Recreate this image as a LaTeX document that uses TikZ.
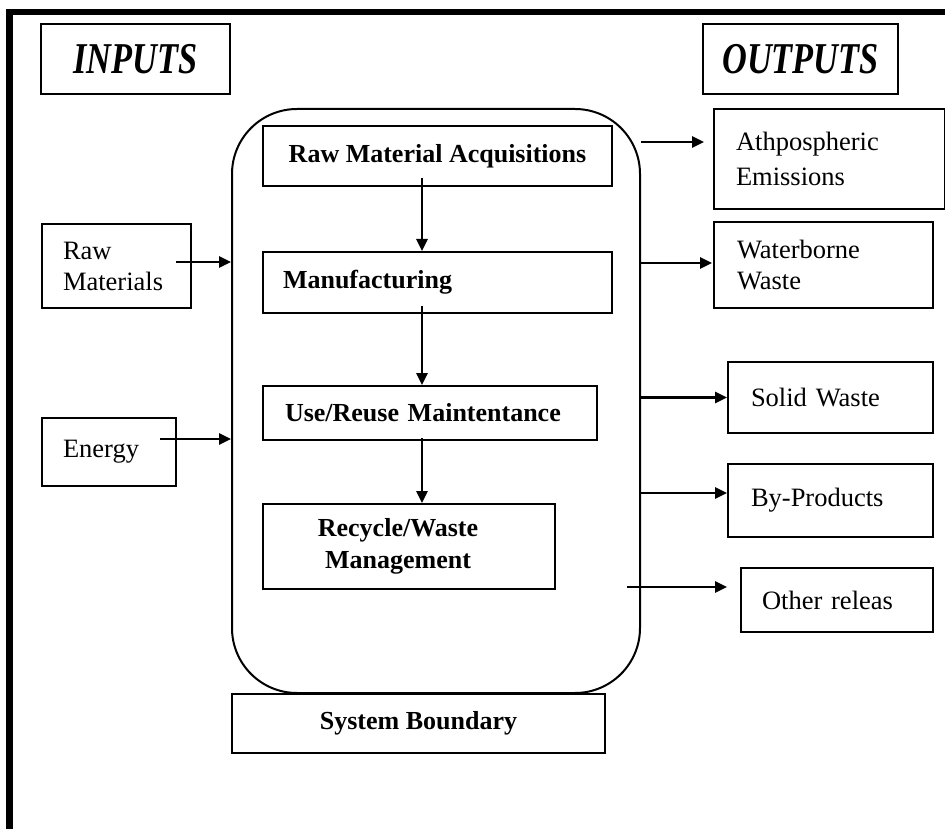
\documentclass[tikz,border=0pt]{standalone}
\usepackage{fontspec}
\setmainfont{Liberation Serif}
\usetikzlibrary{arrows.meta}
\begin{document}
\begin{tikzpicture}[x=1pt,y=-1pt,
  box/.style={draw, line width=2pt, inner sep=0pt, font=\fontsize{26.5}{31}\selectfont},
  lbox/.style={box, align=left},
  bbox/.style={box, font=\fontsize{26}{32}\selectfont\bfseries},
  hdr/.style={draw, line width=2pt, inner sep=0pt, font=\fontsize{44}{46}\selectfont\bfseries\itshape},
  arr/.style={line width=2.6pt, -{Triangle[length=12pt,width=11pt]}}
]
\useasboundingbox (0,0) rectangle (945,829);
% outer frame
\draw[line width=6.5pt, line join=miter] (9.5,829) -- (9.5,12) -- (945,12);

% headers
\node[hdr, minimum width=189pt, minimum height=70pt] (inputs) at (135.5,59) {\scalebox{0.78}[1]{INPUTS}};
\node[hdr, minimum width=195pt, minimum height=70pt] (outputs) at (800.5,59) {\scalebox{0.78}[1]{OUTPUTS}};

% system boundary
\node[draw, line width=2pt, rounded corners=65pt, minimum width=408pt, minimum height=584pt] (bnd) at (436,401) {};
\node[bbox, minimum width=373pt, minimum height=59pt] (sysb) at (418.5,723.5) {System Boundary};

% stages
\node[bbox, minimum width=349pt, minimum height=60pt] (rma) at (437.5,156) {Raw Material Acquisitions};
\node[bbox, minimum width=349pt, minimum height=61pt, text width=309pt, align=left] (man) at (437.5,282.5) {Manufacturing};
\node[bbox, minimum width=334pt, minimum height=54pt, text width=290pt, align=left] (use) at (430,413) {Use/Reuse Maintentance};
\node[bbox, minimum width=292pt, minimum height=85pt, align=center] (rec) at (409,546.5) {Recycle/Waste\hspace*{22pt}\\Management\hspace*{22pt}};

% inputs
\node[lbox, minimum width=149pt, minimum height=84pt, text width=107pt] (raw) at (116.5,266) {Raw\\Materials};
\node[lbox, minimum width=134pt, minimum height=68pt, text width=92pt] (energy) at (109,452) {Energy};

% outputs
\node[lbox, minimum width=231pt, minimum height=100pt, text width=187pt] (atm) at (829.5,159) {Athpospheric\\[4pt]Emissions};
\node[lbox, minimum width=219pt, minimum height=86pt, text width=173pt] (water) at (823.5,265) {Waterborne\\Waste};
\node[lbox, minimum width=205pt, minimum height=71pt, text width=159pt] (solid) at (830.5,397.5) {Solid Waste};
\node[lbox, minimum width=205pt, minimum height=73pt, text width=159pt] (byp) at (830.5,500.5) {By-Products};
\node[lbox, minimum width=192pt, minimum height=64pt, text width=150pt] (other) at (837,600) {Other releas};

% input arrows
\coordinate (i1) at ([xshift=-16pt,yshift=4pt]raw.east);
\draw[arr] (i1) -- (i1 -| bnd.west);
\coordinate (i2) at ([xshift=-17pt,yshift=13pt]energy.east);
\draw[arr] (i2) -- (i2 -| bnd.west);

% stage arrows
\coordinate (v1) at ([xshift=-15.5pt,yshift=9pt]rma.south);
\draw[arr] (v1) -- (v1 |- man.north);
\coordinate (v2) at ([xshift=-15.5pt,yshift=8pt]man.south);
\draw[arr] (v2) -- (v2 |- use.north);
\coordinate (v3) at ([xshift=-8pt,yshift=3pt]use.south);
\draw[arr] (v3) -- (v3 |- rec.north);

% output arrows
\coordinate (o1) at ([xshift=-9pt,yshift=17pt]atm.west);
\draw[arr] (o1 -| bnd.east) -- (o1);
\coordinate (o2) at ([xshift=-1pt,yshift=2pt]water.west);
\draw[arr] (o2 -| bnd.east) -- (o2);
\coordinate (o3) at (solid.west);
\draw[arr] (o3 -| bnd.east) -- (o3);
\coordinate (o4) at ([yshift=7.5pt]byp.west);
\draw[arr] (o4 -| bnd.east) -- (o4);
\coordinate (o5) at ([xshift=-13pt,yshift=13pt]other.west);
\draw[arr] ([xshift=-14pt]o5 -| bnd.east) -- (o5);
\end{tikzpicture}
\end{document}
